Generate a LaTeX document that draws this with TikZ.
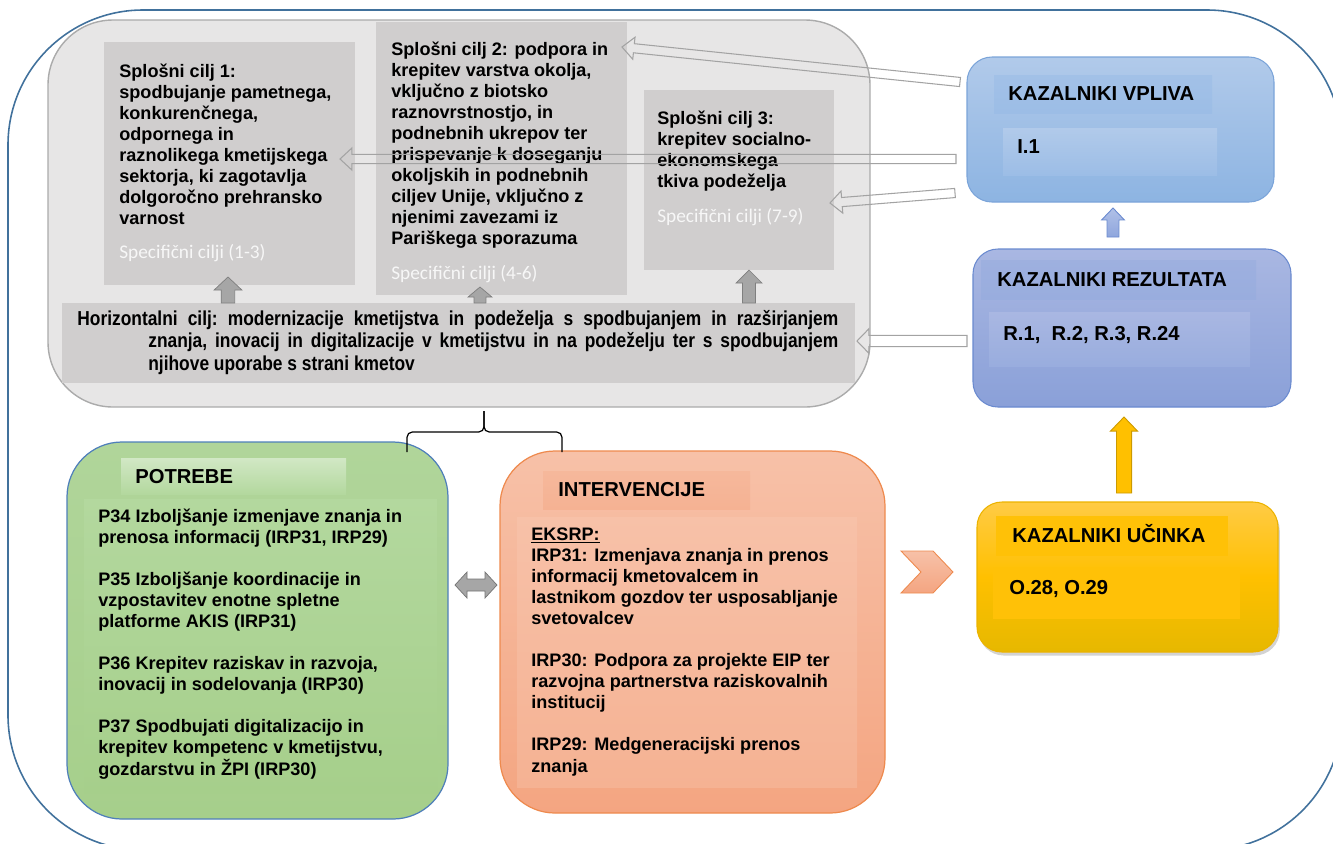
\documentclass[tikz,border=0pt]{standalone}
\usepackage{fontspec}
\setmainfont{Liberation Sans}
\newfontfamily\specfont{Carlito}
\newfontfamily\narrowfont[FakeStretch=0.86]{Liberation Sans}
\usetikzlibrary{positioning,calc,fit,shadows}

\definecolor{framecol}{HTML}{41719C}
\definecolor{panelfill}{HTML}{E7E6E6}
\definecolor{panelline}{HTML}{ABABAB}
\definecolor{goalfill}{HTML}{D0CECE}
\definecolor{specwhite}{HTML}{F7F7F7}
\definecolor{hollowline}{HTML}{A3A3A3}
\definecolor{arrowfill}{HTML}{A6A6A6}
\definecolor{arrowline}{HTML}{7F7F7F}
\definecolor{vpltop}{HTML}{B1CAEA}
\definecolor{vplbot}{HTML}{8DB4E2}
\definecolor{vplline}{HTML}{7BA4D9}
\definecolor{vplband}{HTML}{9CBDE6}
\definecolor{reztop}{HTML}{A9B7E2}
\definecolor{rezbot}{HTML}{8AA0D8}
\definecolor{rezline}{HTML}{6A8ACF}
\definecolor{rezband}{HTML}{99ADDE}
\definecolor{uctop}{HTML}{FFCB45}
\definecolor{ucbot}{HTML}{E6B800}
\definecolor{ucline}{HTML}{ECB300}
\definecolor{ucband}{HTML}{FFC107}
\definecolor{grntop}{HTML}{B0D59A}
\definecolor{grnbot}{HTML}{A6CF8B}
\definecolor{grnline}{HTML}{4F7FBA}
\definecolor{grnband}{HTML}{B3D89E}
\definecolor{orgtop}{HTML}{F7C1A8}
\definecolor{orgbot}{HTML}{F4A581}
\definecolor{orgline}{HTML}{EE8A4E}
\definecolor{orgband}{HTML}{F5B293}
\definecolor{bluearrow}{HTML}{8FA6DD}
\definecolor{yellowarrow}{HTML}{FFC000}

% block arrow: [style]{tail}{tip}{half shaft}{half head}{head length}
\newcommand{\blockarrow}[6][]{%
  \coordinate (ba base) at ($(#3)!#6!(#2)$);
  \draw[#1] ($(#2)!#4!90:(#3)$) -- ($(ba base)!#4!90:(#3)$)
    -- ($(ba base)!#5!90:(#3)$) -- (#3)
    -- ($(ba base)!#5!-90:(#3)$) -- ($(ba base)!#4!-90:(#3)$)
    -- ($(#2)!#4!-90:(#3)$) -- cycle;}

\begin{document}
\begin{tikzpicture}[x=0.02cm, y=-0.02cm,
    box/.style={inner sep=0, draw=none},
    goalbox/.style={box, fill=goalfill},
    bodytext/.style={anchor=base west, inner sep=0, align=left,
      font=\bfseries\fontsize{10.3}{11.95}\selectfont},
    titletext/.style={anchor=base west, inner sep=0,
      font=\bfseries\fontsize{11.5}{13}\selectfont},
    spectext/.style={anchor=base west, inner sep=0, text=specwhite,
      font=\specfont\fontsize{11}{13}\selectfont},
    hollow/.style={draw=hollowline, line width=0.6pt},
    grayarrow/.style={fill=arrowfill, draw=arrowline, line width=0.4pt},
  ]
\useasboundingbox (0,0) rectangle (1333,843);

% outer frame
\node[box, draw=framecol, line width=0.9pt, rounded corners=2.7cm,
  fit={(8,10) (1342,850)}] (frame) {};

% goals panel
\node[box, fill=panelfill, draw=panelline, line width=0.8pt, rounded corners=1.3cm,
  fit={(48,20) (870,407)}] (goals) {};
\node[goalbox, fit={(104,42) (355,285)}] (g1) {};
\node[goalbox, fit={(376,22) (627,295)}] (g2) {};
\node[goalbox, fit={(644,90) (834,270)}] (g3) {};
\node[goalbox, fit={(62,303) (855,383)}] (hz) {};

% multi-line texts are placed by the baseline of their last line
\node[bodytext] (g1 text) at (119,224) {Splošni cilj 1:\\spodbujanje pametnega,\\
  konkurenčnega,\\odpornega in\\raznolikega kmetijskega\\sektorja, ki zagotavlja\\
  dolgoročno prehransko\\varnost};
\node[spectext] (g1 spec) at (119,258) {Specifični cilji (1-3)};

\node[bodytext] (g2 text) at (391,244) {Splošni cilj 2: podpora in\\krepitev varstva okolja,\\
  vključno z biotsko\\raznovrstnostjo, in\\podnebnih ukrepov ter\\prispevanje k doseganju\\
  okoljskih in podnebnih\\ciljev Unije, vključno z\\njenimi zavezami iz\\Pariškega sporazuma};
\node[spectext] (g2 spec) at (391,279) {Specifični cilji (4-6)};

\node[bodytext] (g3 text) at (657,187) {Splošni cilj 3:\\krepitev socialno-\\
  ekonomskega\\tkiva podeželja};
\node[spectext] (g3 spec) at (657,222) {Specifični cilji (7-9)};

\node[anchor=base west, inner sep=0, align=left,
  font=\narrowfont\bfseries\fontsize{11.5}{12.8}\selectfont\frenchspacing] (hz text) at (77,370)
  {\makebox[15.22cm][s]{Horizontalni cilj: modernizacije kmetijstva in podeželja s spodbujanjem in razširjanjem}\\
  \hspace*{1.42cm}\makebox[13.8cm][s]{znanja, inovacij in digitalizacije v kmetijstvu in na podeželju ter s spodbujanjem}\\
  \hspace*{1.42cm}njihove uporabe s strani kmetov};

% arrows up to the goals
\coordinate (up1 tail) at (228,303); \coordinate (up1 tip) at (228,277);
\coordinate (up2 tail) at (480,303); \coordinate (up2 tip) at (480,287);
\coordinate (up3 tail) at (749,303); \coordinate (up3 tip) at (749,270);
\blockarrow[grayarrow]{up1 tail}{up1 tip}{3.9pt}{7.9pt}{7.4pt}
\blockarrow[grayarrow]{up2 tail}{up2 tip}{3.4pt}{6.8pt}{5.7pt}
\blockarrow[grayarrow]{up3 tail}{up3 tip}{3.7pt}{7.4pt}{7.4pt}

% indicator boxes
\node[box, top color=vpltop, bottom color=vplbot, draw=vplline, line width=0.6pt,
  rounded corners=0.5cm, fit={(967,57) (1274,202)}] (vpliva) {};
\node[box, top color=vplband!70!vpltop, bottom color=vplband, fit={(994,75) (1212,113)}] (vpliva head) {};
\node[box, top color=vpltop, bottom color=vplband, fit={(1003,128) (1217,175)}] (vpliva body) {};
\node[titletext] (vpliva title) at (1008,100) {KAZALNIKI VPLIVA};
\node[titletext] (vpliva list) at (1017,153) {I.1};

\node[box, top color=reztop, bottom color=rezbot, draw=rezline, line width=0.6pt,
  rounded corners=0.5cm, fit={(973,249) (1291,407)}] (rezultat) {};
\node[box, top color=rezband!70!reztop, bottom color=rezband, fit={(981,260) (1256,299)}] (rezultat head) {};
\node[box, top color=reztop, bottom color=rezband, fit={(989,312) (1250,366)}] (rezultat body) {};
\node[titletext] (rezultat title) at (997,286) {KAZALNIKI REZULTATA};
\node[titletext] (rezultat list) at (1003,340) {R.1,\ \ R.2, R.3, R.24};

\node[box, top color=uctop, bottom color=ucbot, middle color=yellowarrow, draw=ucline,
  line width=0.6pt, rounded corners=0.5cm, drop shadow={shadow xshift=1pt,
  shadow yshift=-2pt, opacity=0.35}, fit={(977,502) (1278,652)}] (ucinek) {};
\node[box, fill=ucband, fit={(996,516) (1228,556)}] (ucinek head) {};
\node[box, fill=ucband, fit={(993,567) (1240,619)}] (ucinek body) {};
\node[titletext] (ucinek title) at (1012,542) {KAZALNIKI UČINKA};
\node[titletext] (ucinek list) at (1009,594) {O.28, O.29};

% needs and interventions
\node[box, top color=grntop, bottom color=grnbot, draw=grnline, line width=0.7pt,
  rounded corners=1.1cm, fit={(67,442) (448,819)}] (potrebe) {};
\node[box, top color=grnband!60!white, bottom color=grnband, fit={(121,458) (346,494)}] (potrebe head) {};
\node[box, top color=grnband, bottom color=grnbot, fit={(84,499) (437,793)}] (potrebe body) {};
\node[titletext] (potrebe title) at (135,483) {POTREBE};
\node[bodytext, font=\bfseries\fontsize{10.3}{12}\selectfont] (potrebe text) at (98,775)
  {P34 Izboljšanje izmenjave znanja in\\prenosa informacij (IRP31, IRP29)\\[12pt]
   P35 Izboljšanje koordinacije in\\vzpostavitev enotne spletne\\platforme AKIS (IRP31)\\[12pt]
   P36 Krepitev raziskav in razvoja,\\inovacij in sodelovanja (IRP30)\\[12pt]
   P37 Spodbujati digitalizacijo in\\krepitev kompetenc v kmetijstvu,\\gozdarstvu in ŽPI (IRP30)};

\node[box, top color=orgtop, bottom color=orgbot, draw=orgline, line width=0.7pt,
  rounded corners=1.1cm, fit={(500,451) (885,813)}] (interv) {};
\node[box, top color=orgband!60!orgtop, bottom color=orgband, fit={(543,471) (750,509)}] (interv head) {};
\node[box, top color=orgtop, bottom color=orgband, fit={(517,517) (857,787)}] (interv body) {};
\node[titletext] (interv title) at (558,496) {INTERVENCIJE};
\node[bodytext, font=\bfseries\fontsize{10.3}{12}\selectfont] (interv text) at (531,772)
  {\underline{EKSRP:}\\IRP31: Izmenjava znanja in prenos\\informacij kmetovalcem in\\
   lastnikom gozdov ter usposabljanje\\svetovalcev\\[12pt]
   IRP30: Podpora za projekte EIP ter\\razvojna partnerstva raziskovalnih\\institucij\\[12pt]
   IRP29: Medgeneracijski prenos\\znanja};

% brace under the goals panel
\coordinate (br left) at (407,452);
\coordinate (br right) at (562,452);
\coordinate (br mid) at (484,432);
\coordinate (br top) at (484,411);
\draw[line width=0.7pt, rounded corners=3pt] (br left) -- (br left |- br mid) -- (br mid) -- (br top);
\draw[line width=0.7pt, rounded corners=3pt] (br right) -- (br right |- br mid) -- (br mid) -- (br top);

% double arrow between needs and interventions
\coordinate (dbl left) at (455,585);
\coordinate (dbl right) at (497,585);
\draw[fill=arrowfill, draw=arrowfill!70!black, line width=0.4pt] (dbl left) -- ++(12,-13) -- ++(0,7)
  -- ($(dbl right)+(-12,-6)$) -- ++(0,-7) -- (dbl right) -- ++(-12,13) -- ++(0,-7)
  -- ($(dbl left)+(12,6)$) -- ++(0,7) -- cycle;

% chevron towards output indicators
\draw[top color=orgtop, bottom color=orgbot, draw=orgline, line width=0.5pt]
  (901,551) -- (933,551) -- (953,572) -- (933,593) -- (901,593) -- (921,572) -- cycle;

% arrows between indicator boxes
\coordinate (yel tail) at (1124,493); \coordinate (yel tip) at (1124,417);
\blockarrow[fill=yellowarrow, draw=yellowarrow!80!black, line width=0.5pt]{yel tail}{yel tip}{4.3pt}{7.7pt}{8pt}
\coordinate (blu tail) at (1113,237); \coordinate (blu tip) at (1113,208);
\blockarrow[top color=bluearrow!70!white, bottom color=bluearrow, draw=rezline, line width=0.5pt]{blu tail}{blu tip}{3.4pt}{6.5pt}{6.8pt}

% hollow arrows from the indicators to the goals
\coordinate (hA tail) at (960,82);  \coordinate (hA tip) at (622,47);
\coordinate (hB tail) at (956,159); \coordinate (hB tip) at (340,159);
\coordinate (hC tail) at (955,193); \coordinate (hC tip) at (830,203);
\coordinate (hD tail) at (967,341); \coordinate (hD tip) at (857,341);
\blockarrow[hollow]{hA tail}{hA tip}{2.6pt}{6.3pt}{6.8pt}
\blockarrow[hollow]{hB tail}{hB tip}{2.6pt}{6.3pt}{6.8pt}
\blockarrow[hollow]{hC tail}{hC tip}{2.6pt}{6.3pt}{6.8pt}
\blockarrow[hollow]{hD tail}{hD tip}{3.2pt}{7pt}{6.8pt}
\end{tikzpicture}
\end{document}
